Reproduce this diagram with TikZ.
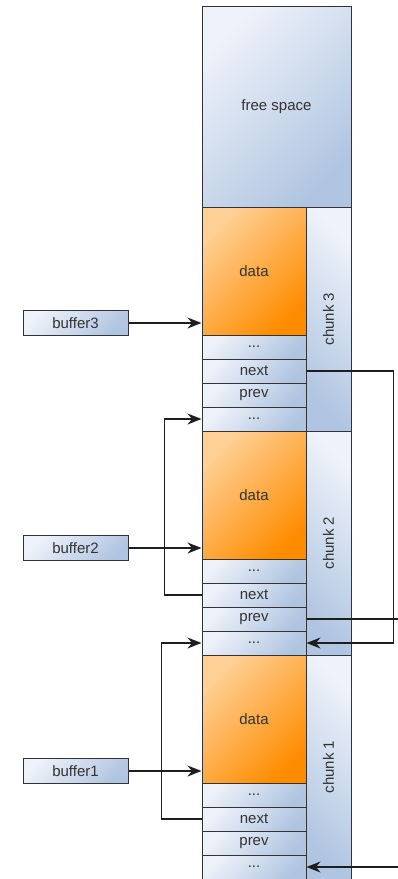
\documentclass[tikz,border=0pt]{standalone}
\usepackage{fontspec}
\setmainfont{Liberation Sans}
\usepackage{tikz}
\usetikzlibrary{positioning,calc,arrows.meta}
\definecolor{cellhi}{RGB}{238,242,250}
\definecolor{celllo}{RGB}{176,197,225}
\definecolor{datahi}{RGB}{255,208,150}
\definecolor{datalo}{RGB}{255,140,0}
\definecolor{inkgray}{RGB}{51,51,51}
\definecolor{linkgray}{RGB}{30,30,30}

\begin{document}
\begin{tikzpicture}[x=1pt,y=-1pt,
		font=\fontsize{15}{18}\selectfont,
		cell/.style={draw=inkgray, line width=1pt, text=inkgray, inner sep=0pt,
			top color=cellhi, bottom color=celllo, shading angle=45},
		datacell/.style={cell, top color=datahi, bottom color=datalo, shading angle=45},
		link/.style={draw=linkgray, line width=1.4pt, -{Stealth[length=14pt,width=11pt,inset=4.5pt]}},
		wire/.style={draw=linkgray, line width=1.4pt}]
	\useasboundingbox (0,0) rectangle (398,879);
	
	% Free space on top
	\node[cell, minimum width=149pt, minimum height=201pt] (free) at (276.5,106.5) {free space};
	
	% Chunks 3, 2, 1 from top to bottom
	\foreach \k in {3,2,1} {
		\pgfmathsetmacro{\ytop}{207+(3-\k)*224}
		\node[datacell, minimum width=104pt, minimum height=128pt] (data\k) at (254,\ytop+64) {data};
		\node[cell, minimum width=104pt, minimum height=24pt] (dotsa\k) at (254,\ytop+140) {...};
		\node[cell, minimum width=104pt, minimum height=24pt] (next\k) at (254,\ytop+164) {next};
		\node[cell, minimum width=104pt, minimum height=24pt] (prev\k) at (254,\ytop+188) {prev};
		\node[cell, minimum width=104pt, minimum height=24pt] (dotsb\k) at (254,\ytop+212) {...};
		\node[cell, rotate=90, shading angle=-45, minimum width=224pt, minimum height=45pt] (chunk\k) at (328.5,\ytop+112) {chunk \k};
	}
	
	% Buffers pointing at data
	\foreach \k/\yb in {3/323,2/548,1/771} {
		\node[cell, minimum width=105pt, minimum height=25pt] (buffer\k) at (75.5,\yb) {buffer\k};
		\draw[link] (buffer\k.east) -- (buffer\k.east -| data\k.west);
	}
	
	% next / prev links
	\coordinate (rim) at (398,0);
	\draw[link] (next2.west) -- ++(-37,0) |- (dotsb3.west);
	\draw[link] (next1.west) -- ++(-40,0) |- (dotsb2.west);
	\draw[link] (next3.east) -- ++(87,0) |- (dotsb2.east);
	\draw[wire] (prev2.east) -- (prev2.east -| rim);
	\draw[link] (dotsb1.east -| rim) -- (dotsb1.east);
\end{tikzpicture}
\end{document}
